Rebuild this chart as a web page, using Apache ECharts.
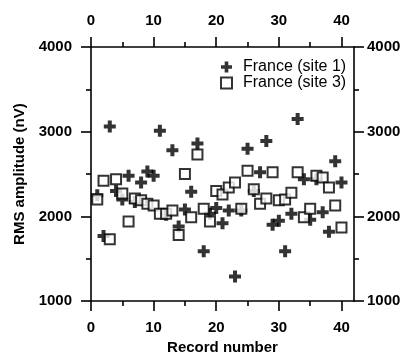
<!DOCTYPE html>
<html>
<head>
<meta charset="utf-8">
<script src="https://cdn.jsdelivr.net/npm/echarts@6/dist/echarts.min.js"></script>
<style>html,body{margin:0;padding:0;background:#fff}#c{width:409px;height:360px}</style>
</head>
<body>
<div id="c"></div>
<script>
const records = [1,2,3,4,5,6,7,8,9,10,11,12,13,14,15,16,17,18,19,20,21,22,23,24,25,26,27,28,29,30,31,32,33,34,35,36,37,38,39,40];
const site1 = [2250,1770,3060,2300,2200,2480,2170,2400,2530,2480,3010,2020,2780,1880,2080,2290,2860,1590,2030,2100,1920,2070,1290,2070,2800,2300,2520,2890,1900,1950,1590,2030,3150,2440,1960,2440,2050,1820,2650,2400];
const site3 = [2200,2420,1730,2440,2270,1940,2210,2190,2150,2130,2030,2030,2070,1780,2500,1990,2730,2090,1940,2300,2260,2340,2400,2090,2540,2320,2150,2210,2520,2190,2200,2280,2520,1990,2090,2480,2460,2340,2130,1870];
const xMajor = [0,10,20,30,40];
const xMinor = [5,15,25,35];
const yMajor = [1000,2000,3000,4000];
const yMinor = [1500,2500,3500];
const seriesNames = ['France (site 1)','France (site 3)'];

const plusPath = 'path://M4,0H8V4H12V8H8V12H4V8H0V4H4Z';
const font = 'Liberation Sans, Arial, sans-serif';
const lineStyle = {color:'#000', width:1.6};

function xAx(pos, major) {
  return {
    type:'value', position:pos, min:0, max:42, gridIndex:0,
    axisLine:{show:major, onZero:false, lineStyle:lineStyle},
    axisTick:{show:true, inside:false, length: major?10:5, customValues: major?xMajor:xMinor, lineStyle:lineStyle},
    axisLabel:{show:major, customValues:xMajor, margin:19, color:'#000', fontSize:15, fontWeight:'bold', fontFamily:font,
      formatter: v => String(v)},
    splitLine:{show:false},
    name: (major && pos==='bottom') ? 'Record number' : '',
    nameLocation:'middle', nameGap:37,
    nameTextStyle:{color:'#000', fontSize:15, fontWeight:'bold', fontFamily:font}
  };
}
function yAx(pos, major) {
  return {
    type:'value', position:pos, min:1000, max:4000, interval:1000, gridIndex:0,
    axisLine:{show:major, onZero:false, lineStyle:lineStyle},
    axisTick:{show:true, inside:false, length: major?10:5, customValues: major?yMajor:yMinor, lineStyle:lineStyle},
    axisLabel:{show:major, customValues:yMajor, margin: pos==='left'?19:13, color:'#000', fontSize:15, fontWeight:'bold', fontFamily:font,
      formatter: v => String(v)},
    splitLine:{show:false},
    name: (major && pos==='left') ? 'RMS amplitude (nV)' : '',
    nameLocation:'middle', nameGap:62, nameRotate:90,
    nameTextStyle:{color:'#000', fontSize:15, fontWeight:'bold', fontFamily:font}
  };
}

const chart = echarts.init(document.getElementById('c'), null, {renderer:'canvas'});
chart.setOption({
  animation:false,
  backgroundColor:'#fff',
  grid:{left:91, right:55, top:47, bottom:54},
  xAxis:[xAx('bottom',true), xAx('bottom',false), xAx('top',true), xAx('top',false)],
  yAxis:[yAx('left',true), yAx('left',false), yAx('right',true), yAx('right',false)],
  legend:{
    orient:'vertical', left:215, top:54, itemGap:0, itemWidth:11, itemHeight:11,
    textStyle:{color:'#000', fontSize:16, fontFamily:font, padding:[0,0,0,6]},
    data:[{name:seriesNames[0], icon:plusPath},{name:seriesNames[1], icon:'rect'}]
  },
  series:[
    {
      name:seriesNames[0], type:'scatter', xAxisIndex:0, yAxisIndex:0,
      symbol:plusPath, symbolSize:12,
      itemStyle:{color:'#000'},
      data: records.map((r,i)=>[r, site1[i]])
    },
    {
      name:seriesNames[1], type:'scatter', xAxisIndex:0, yAxisIndex:0,
      symbol:'rect', symbolSize:10,
      itemStyle:{color:'#fff', borderColor:'#000', borderWidth:2},
      data: records.map((r,i)=>[r, site3[i]])
    }
  ]
});
</script>
</body>
</html>
